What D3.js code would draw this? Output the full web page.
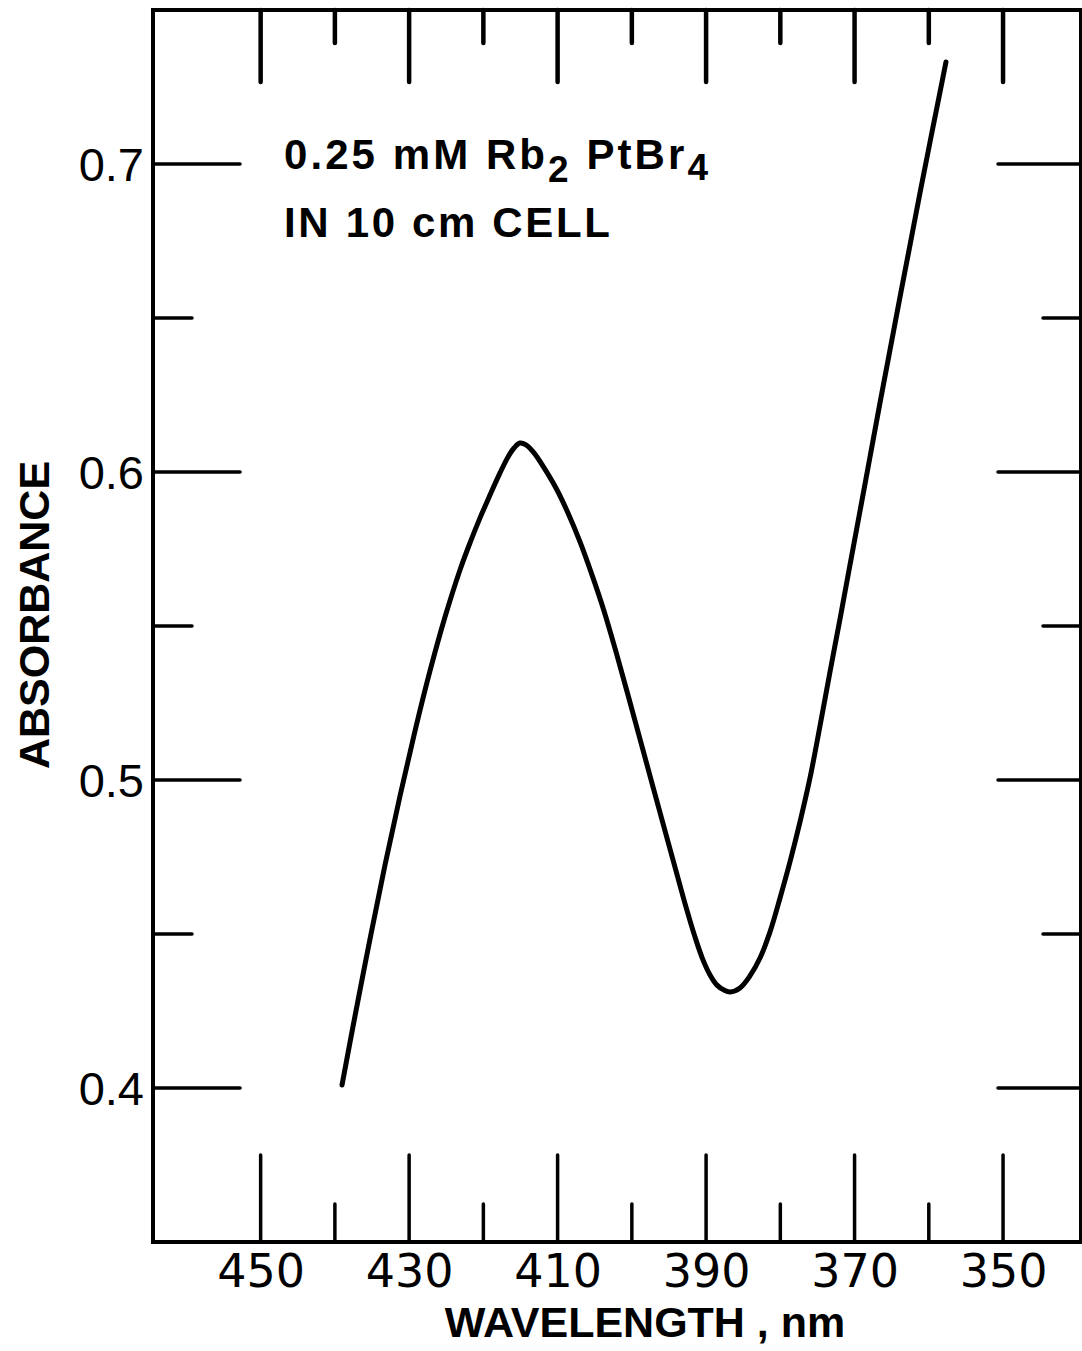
<!DOCTYPE html>
<html>
<head>
<meta charset="utf-8">
<script src="https://cdn.jsdelivr.net/npm/d3@7"></script>
<style>
  body { margin: 0; background: #fff; }
  svg { display: block; }
</style>
</head>
<body>
<svg id="chart" width="1082" height="1351"></svg>
<script>
// Absorption spectrum of 0.25 mM Rb2PtBr4, 10 cm cell
const wavelength = [439.04, 437.29, 435.27, 433.25, 431.23, 429.21, 427.19, 425.17, 423.15, 421.80,
                    420.45, 419.11, 417.76, 416.68, 415.87, 415.07, 414.26, 413.18,
                    411.97, 410.22, 408.60, 406.98, 405.37, 403.75, 402.13, 400.52, 398.90,
                    397.29, 395.67, 394.05, 392.71, 391.49, 390.42, 389.47, 388.53, 387.59, 386.78,
                    385.43, 384.09, 382.74, 381.39, 380.04, 378.70, 377.35, 376.00, 374.66, 373.31,
                    371.96, 370.62, 369.27, 367.92, 366.58, 365.23, 363.88, 362.53, 361.19, 359.84,
                    358.49, 357.69];
const absorbance = [0.4010, 0.4234, 0.4484, 0.4724, 0.4948, 0.5159, 0.5354, 0.5529, 0.5682, 0.5770,
                    0.5851, 0.5925, 0.5997, 0.6049, 0.6078, 0.6094, 0.6088, 0.6062,
                    0.6019, 0.5948, 0.5867, 0.5773, 0.5666, 0.5549, 0.5416, 0.5276, 0.5133,
                    0.4990, 0.4847, 0.4705, 0.4588, 0.4490, 0.4416, 0.4367, 0.4334, 0.4318, 0.4312,
                    0.4325, 0.4364, 0.4422, 0.4507, 0.4617, 0.4734, 0.4864, 0.5007, 0.5175, 0.5351,
                    0.5523, 0.5698, 0.5873, 0.6049, 0.6224, 0.6396, 0.6568, 0.6737, 0.6906, 0.7071,
                    0.7234, 0.7331];

const xMajorTicks = [450, 430, 410, 390, 370, 350];
const xMinorTicks = [440, 420, 400, 380, 360];
const xTickLabels = ["450", "430", "410", "390", "370", "350"];
const yMajorTicks = [0.4, 0.5, 0.6, 0.7];
const yMinorTicks = [0.45, 0.55, 0.65];
const yTickLabels = ["0.4", "0.5", "0.6", "0.7"];

const xTitle = "WAVELENGTH , nm";
const yTitle = "ABSORBANCE";

const svg = d3.select("#chart");
const frame = { left: 153, right: 1081, top: 10, bottom: 1242 };

// wavelength decreases to the right
const x = d3.scaleLinear().domain([464.5, 339.5]).range([frame.left, frame.right]);
const y = d3.scaleLinear().domain([0.35, 0.75]).range([frame.bottom, frame.top]);

const ink = "#000";

// plot frame
svg.append("rect")
  .attr("x", frame.left).attr("y", frame.top)
  .attr("width", frame.right - frame.left).attr("height", frame.bottom - frame.top)
  .attr("fill", "none").attr("stroke", ink).attr("stroke-width", 4);

// tick marks on all four sides
const ticks = svg.append("g").attr("stroke", ink).attr("stroke-linecap", "round");

function tickRow(values, xpos, y1, y2, w) {
  ticks.selectAll(null).data(values).join("line")
    .attr("x1", d => xpos(d)).attr("x2", d => xpos(d))
    .attr("y1", y1).attr("y2", y2).attr("stroke-width", w);
}
function tickCol(values, ypos, x1, x2, w) {
  ticks.selectAll(null).data(values).join("line")
    .attr("y1", d => ypos(d)).attr("y2", d => ypos(d))
    .attr("x1", x1).attr("x2", x2).attr("stroke-width", w);
}
tickRow(xMajorTicks, x, frame.top, frame.top + 72, 4.5);
tickRow(xMinorTicks, x, frame.top, frame.top + 33, 4.5);
tickRow(xMajorTicks, x, frame.bottom, frame.bottom - 87, 3.5);
tickRow(xMinorTicks, x, frame.bottom, frame.bottom - 38, 3.5);
tickCol(yMajorTicks, y, frame.left, frame.left + 87, 3.5);
tickCol(yMinorTicks, y, frame.left, frame.left + 39, 3.5);
tickCol(yMajorTicks, y, frame.right, frame.right - 83, 3.5);
tickCol(yMinorTicks, y, frame.right, frame.right - 38, 3.5);

// tick labels via d3 axes (tick lines hidden, drawn above)
const xAxis = d3.axisBottom(x).tickValues(xMajorTicks)
  .tickFormat((d, i) => xTickLabels[i]).tickSize(0).tickPadding(0);
const gx = svg.append("g").attr("transform", `translate(0,${frame.bottom})`).call(xAxis);
gx.select(".domain").remove();
gx.selectAll("text")
  .attr("y", 45).attr("dy", null)
  .attr("fill", ink)
  .style("font-family", "'DejaVu Sans', sans-serif")
  .style("font-size", "46px");

const yAxis = d3.axisLeft(y).tickValues(yMajorTicks)
  .tickFormat((d, i) => yTickLabels[i]).tickSize(0).tickPadding(0);
const gy = svg.append("g").attr("transform", `translate(${frame.left - 9},0)`).call(yAxis);
gy.select(".domain").remove();
gy.selectAll("text")
  .attr("x", 0).attr("dy", "0.36em")
  .attr("fill", ink)
  .style("font-family", "'Liberation Sans', Arial, sans-serif")
  .style("font-size", "47px");

// axis titles
svg.append("text")
  .attr("x", 645).attr("y", 1337)
  .attr("text-anchor", "middle")
  .attr("fill", ink)
  .style("font-family", "'Liberation Sans', Arial, sans-serif")
  .style("font-weight", "bold")
  .style("font-size", "43px")
  .text(xTitle);

svg.append("text")
  .attr("transform", "translate(49,615) rotate(-90)")
  .attr("text-anchor", "middle")
  .attr("fill", ink)
  .style("font-family", "'Liberation Sans', Arial, sans-serif")
  .style("font-weight", "bold")
  .style("font-size", "43px")
  .text(yTitle);

// sample annotation
const note = svg.append("g")
  .attr("fill", ink)
  .style("font-family", "'Liberation Sans', Arial, sans-serif")
  .style("font-weight", "bold")
  .style("font-size", "42px");

const line1 = note.append("text").attr("x", 284).attr("y", 169)
  .attr("textLength", 424).attr("lengthAdjust", "spacing");
line1.append("tspan").text("0.25 mM Rb");
line1.append("tspan").attr("dy", 13).style("font-size", "37px").text("2");
line1.append("tspan").attr("dy", -13).text(" PtBr");
line1.append("tspan").attr("dy", 11).style("font-size", "37px").text("4");

note.append("text").attr("x", 284).attr("y", 237)
  .attr("textLength", 326).attr("lengthAdjust", "spacing")
  .text("IN 10 cm CELL");

// spectrum
const pts = wavelength.map((w, i) => [w, absorbance[i]]);
const line = d3.line()
  .x(d => x(d[0]))
  .y(d => y(d[1]))
  .curve(d3.curveCatmullRom.alpha(0.5));

svg.append("path")
  .datum(pts)
  .attr("d", line)
  .attr("fill", "none")
  .attr("stroke", ink)
  .attr("stroke-width", 5)
  .attr("stroke-linecap", "round")
  .attr("stroke-linejoin", "round");
</script>
</body>
</html>
